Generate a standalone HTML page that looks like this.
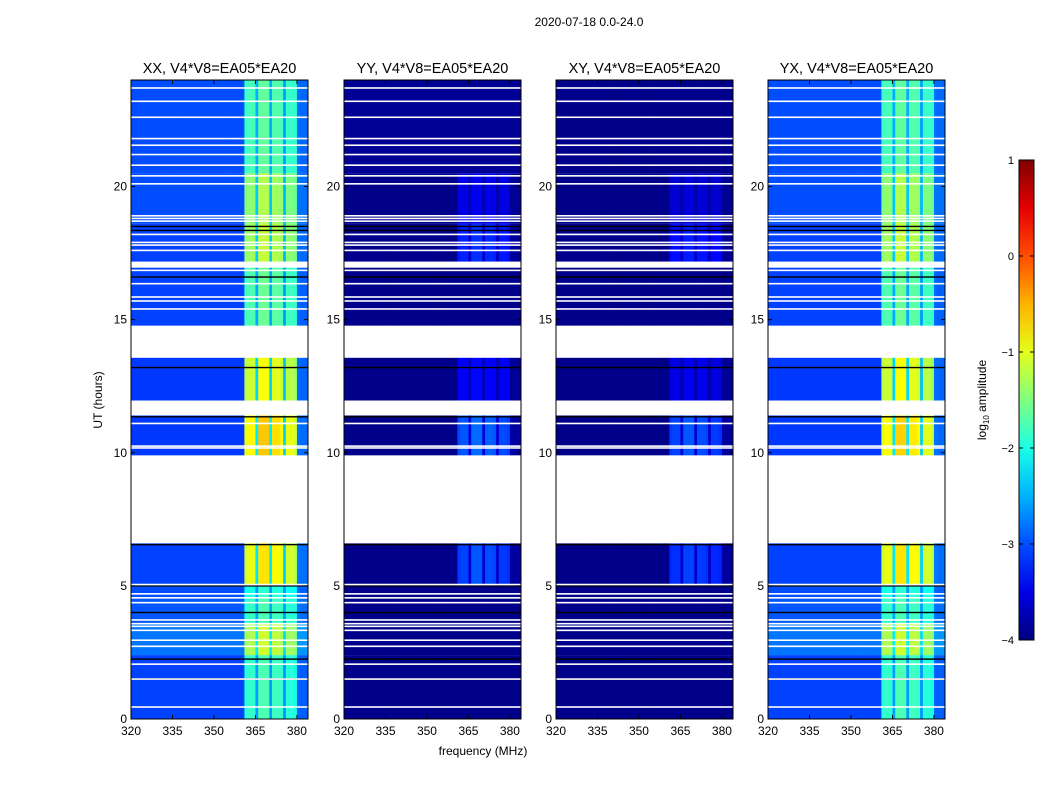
<!DOCTYPE html>
<html><head><meta charset="utf-8">
<style>
body{margin:0;background:#fff;}
svg{display:block;font-family:"Liberation Sans",sans-serif;}
</style></head>
<body>
<svg id="fig" width="1050" height="800" viewBox="0 0 1050 800" xmlns="http://www.w3.org/2000/svg">
<rect width="1050" height="800" fill="#fff"/>
<text x="589" y="26" font-size="12" text-anchor="middle">2020-07-18 0.0-24.0</text>
<text transform="translate(102,400) rotate(-90)" font-size="12" text-anchor="middle">UT (hours)</text>
<text x="483" y="755" font-size="12" text-anchor="middle">frequency (MHz)</text>
<g id="panels"></g>
<g id="cbar"></g>
</svg>
<script>
// ---- data ----
const pols = ["XX","YY","XY","YX"];
const baseline = "V4*V8=EA05*EA20";
const xTicks = [320,335,350,365,380];
const yTicks = [0,5,10,15,20];
const cbarTicks = [1,0,-1,-2,-3,-4];
// frequency channels (1 MHz each, 320..383), relative band gain
const chanStart = [320,321,322,323,324,325,326,327,328,329,330,331,332,333,334,335,336,337,338,339,340,341,342,343,344,345,346,347,348,349,350,351,352,353,354,355,356,357,358,359,360,361,362,363,364,365,366,367,368,369,370,371,372,373,374,375,376,377,378,379,380,381,382,383];
const chanGain = [0,0,0,0,0,0,0,0,0,0,0,0,0,0,0,0,0,0,0,0,0,0,0,0,0,0,0,0,0,0,0,0,0,0,0,0,0,0,0,0,0,0.85,0.9,0.9,0.9,0.35,1,1,1,1,0.35,0.95,0.95,0.95,0.9,0.3,0.85,0.85,0.85,0.8,0.12,0.1,0.1,0.1];
// time segments (hours)
const segStart = [0,2.4,3.6,4.6,5.0,9.9,11.96,14.77,17.0,18.6,20.5];
const segEnd   = [2.4,3.6,4.6,5.0,6.6,11.4,13.57,17.0,18.6,20.5,24];
// noise level and band excess per pol
const noiseXX = [-3.05,-2.8,-2.95,-3.0,-3.05,-3.1,-3.1,-3.05,-3.05,-3.0,-3.0];
const bandXX  = [1.3,1.7,1.2,1.1,2.3,2.5,2.2,1.45,1.9,1.75,1.35];
const noiseYY = [-3.95,-3.95,-3.95,-3.95,-3.95,-3.95,-3.95,-3.95,-3.95,-3.95,-3.9];
const bandYY  = [0,0,0,0,1.0,1.1,0.6,0,0.8,0.5,0];
const noiseXY = [-3.95,-3.95,-3.95,-3.95,-3.95,-3.95,-3.95,-3.95,-3.95,-3.95,-3.95];
const bandXY  = [0,0,0,0,0.9,1.0,0.5,0,0.7,0.4,0];
const noiseYX = [-3.05,-2.8,-2.95,-3.0,-3.05,-3.1,-3.1,-3.05,-3.05,-3.0,-3.0];
const bandYX  = [1.3,1.7,1.2,1.1,2.3,2.45,2.2,1.45,1.9,1.75,1.35];
// white (flagged) thin lines, hours
const flagLines = [23.7,23.2,22.6,21.8,21.55,21.2,20.8,20.4,20.1,18.9,18.8,18.7,18.2,17.9,17.8,17.6,17.15,17.0,16.85,16.35,15.85,15.7,15.4,11.1,10.25,10.18,5.05,4.7,4.55,4.37,3.72,3.58,3.48,3.33,2.96,2.73,2.06,1.5,0.45];
const flagBands = [[13.57,14.77],[11.4,11.96],[6.6,9.9],[16.95,17.15]];
const darkLines = [18.5,18.35,16.6,13.2,11.35,6.55,5.0,4.0,2.25,1.5];

// ---- layout ----
const panelX = [131,344,556,768];
const PW = 177, PT = 80, PB = 719;
const fMin = 320, fMax = 384, tMin = 0, tMax = 24;
function xScale(i,f){return panelX[i] + (f-fMin)/(fMax-fMin)*PW;}
function yScale(h){return PB - (h-tMin)/(tMax-tMin)*(PB-PT);}
function jet(v){
  let t=(v+4)/5; t=Math.max(0,Math.min(1,t));
  const r=Math.max(0,Math.min(1,1.5-Math.abs(4*t-3)));
  const g=Math.max(0,Math.min(1,1.5-Math.abs(4*t-2)));
  const b=Math.max(0,Math.min(1,1.5-Math.abs(4*t-1)));
  return `rgb(${Math.round(r*255)},${Math.round(g*255)},${Math.round(b*255)})`;
}
const NS="http://www.w3.org/2000/svg";
function mk(tag,attrs,parent){const e=document.createElementNS(NS,tag);for(const k in attrs)e.setAttribute(k,attrs[k]);parent.appendChild(e);return e;}
const noiseArr=[noiseXX,noiseYY,noiseXY,noiseYX], bandArr=[bandXX,bandYY,bandXY,bandYX];
const panels=document.getElementById('panels');
pols.forEach((p,i)=>{
  const g=mk('g',{},panels);
  
  
  const hm=mk('g',{},g);
  
  
  segStart.forEach((s,k)=>{
    const y0=yScale(segEnd[k]), y1=yScale(s);
    chanStart.forEach((f,c)=>{
      const v=noiseArr[i][k]+chanGain[c]*bandArr[i][k];
      const r=mk('rect',{x:xScale(i,f),y:y0,width:PW/(fMax-fMin)+0.4,height:y1-y0,fill:jet(v)},hm);
      
      
    });
  });
  darkLines.forEach(h=>{
    const r=mk('rect',{x:panelX[i],y:yScale(h)-0.7,width:PW,height:1.4,fill:'#000'},hm);
    
    
  });
  flagLines.forEach(h=>{
    const r=mk('rect',{x:panelX[i],y:yScale(h)-0.8,width:PW,height:1.6,fill:'#fff'},hm);
    
    
  });
  flagBands.forEach(b=>{
    const r=mk('rect',{x:panelX[i],y:yScale(b[1]),width:PW,height:yScale(b[0])-yScale(b[1]),fill:'#fff'},hm);
    
    
  });
  const fr=mk('rect',{x:panelX[i],y:PT,width:PW,height:PB-PT,fill:'none',stroke:'#000','stroke-width':1},g);
  
  
  const t=mk('text',{x:panelX[i]+PW/2,y:PT-7,'font-size':14.5,'text-anchor':'middle'},g);
  t.textContent=p+', '+baseline;
  
  
  xTicks.forEach(v=>{
    const x=xScale(i,v);
    const l=mk('line',{x1:x,x2:x,y1:PB,y2:PB-4,stroke:'#000'},g);
    
    
    mk('line',{x1:x,x2:x,y1:PT,y2:PT+4,stroke:'#000'},g);
    const tx=mk('text',{x:x,y:PB+16,'font-size':12,'text-anchor':'middle'},g);
    tx.textContent=v;
    
    
  });
  yTicks.forEach(v=>{
    const y=yScale(v);
    const l=mk('line',{x1:panelX[i],x2:panelX[i]+4,y1:y,y2:y,stroke:'#000'},g);
    
    
    mk('line',{x1:panelX[i]+PW,x2:panelX[i]+PW-4,y1:y,y2:y,stroke:'#000'},g);
    const tx=mk('text',{x:panelX[i]-4,y:y+4,'font-size':12,'text-anchor':'end'},g);
    tx.textContent=v;
    
    
  });
});
// colorbar
const cb=document.getElementById('cbar');


const CX=1019,CW=15,CT=160,CB=640;
const defs=mk('defs',{},cb);
const lg=mk('linearGradient',{id:'jetg',x1:0,y1:1,x2:0,y2:0},defs);
[-4,-3.5,-3,-2.5,-2,-1.5,-1,-0.5,0,0.5,1].forEach(v=>{mk('stop',{offset:(v+4)/5,'stop-color':jet(v)},lg);});
const cr=mk('rect',{x:CX,y:CT,width:CW,height:CB-CT,fill:'url(#jetg)',stroke:'#000','stroke-width':1},cb);


cbarTicks.forEach(v=>{
  const y=CB-(v+4)/5*(CB-CT);
  mk('line',{x1:CX,x2:CX+4,y1:y,y2:y,stroke:'#000'},cb);
  mk('line',{x1:CX+CW,x2:CX+CW-4,y1:y,y2:y,stroke:'#000'},cb);
  const tx=mk('text',{x:CX-5,y:y+4,'font-size':11,'text-anchor':'end'},cb);
  tx.textContent=v<0?'\u2212'+(-v):String(v);
  
  
});
const cl=mk('text',{transform:'translate(986,400) rotate(-90)','font-size':12,'text-anchor':'middle'},cb);
cl.innerHTML='log<tspan font-size="8" dy="3">10</tspan><tspan dy="-3"> amplitude</tspan>';


</script>
</body></html>
